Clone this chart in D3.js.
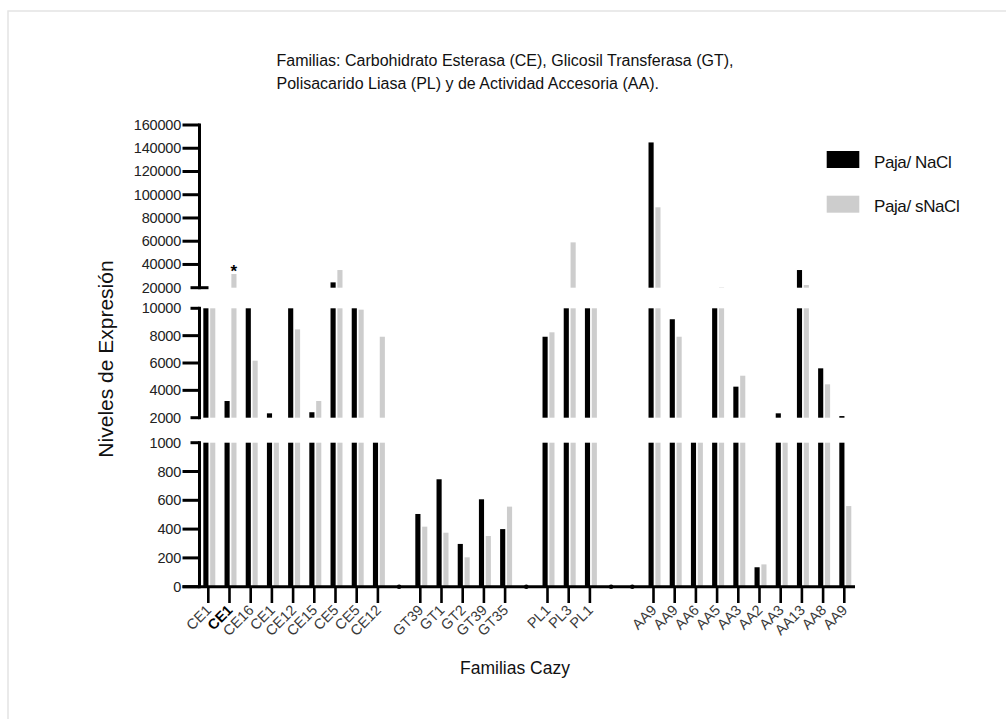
<!DOCTYPE html>
<html><head><meta charset="utf-8">
<script src="https://cdn.jsdelivr.net/npm/d3@7"></script>
<style>
html,body{margin:0;padding:0;background:#fff;}
svg{display:block;font-family:"Liberation Sans",Arial,Helvetica,sans-serif;}
</style></head>
<body>
<svg id="chart" width="1006" height="719"></svg>
<script>
// ---- data ----
const categories = ["CE1","CE1","CE16","CE1","CE12","CE15","CE5","CE5","CE12","",
  "GT39","GT1","GT2","GT39","GT35","",
  "PL1","PL3","PL1","","",
  "AA9","AA9","AA6","AA5","AA3","AA2","AA3","AA13","AA8","AA9"];
const pajaNaCl = [15000,3220,15000,2320,15000,2400,24600,15000,1500,null,
  505,746,297,607,400,null,
  7920,15000,15000,null,null,
  145000,9200,1500,15000,4270,135,2320,35200,5610,2120];
const pajaSNaCl = [15000,31800,6170,1500,8460,3220,35200,9900,7920,null,
  417,375,204,352,556,null,
  8245,59000,15000,null,null,
  89200,7920,1500,20300,5070,155,1500,22300,4440,560];
const seriesNames = ["Paja/ NaCl","Paja/ sNaCl"];
const topTicks = [20000,40000,60000,80000,100000,120000,140000,160000];
const midTicks = [2000,4000,6000,8000,10000];
const botTicks = [0,200,400,600,800,1000];
const boldIndex = 1;      // second CE1 label drawn bold
const starIndex = 1;      // significance mark over second CE1

// ---- layout ----
const svg = d3.select("#chart");
const colors = ["#000000","#cdcdcd"];
const axisX = 199.5;

svg.append("path").attr("d","M8,719V11H1006").attr("fill","none")
  .attr("stroke","#e4e4e4").attr("stroke-width",1.5);

const idx = categories.map((d,i)=>String(i));
const x = d3.scaleBand().domain(idx).range([197.7, 854.9]).padding(0);
const bw = x.bandwidth();
const xs = d3.scaleBand().domain(seriesNames).range([bw*0.265, bw*0.83]).paddingInner(0.25);

const segs = [
  {lo:20000, hi:160000, ticks: topTicks, scale: d3.scaleLinear().domain([20000,160000]).range([287.7,125])},
  {lo:2000, hi:10000, ticks: midTicks, scale: d3.scaleLinear().domain([2000,10000]).range([417.7,308.3])},
  {lo:0, hi:1000, ticks: botTicks, scale: d3.scaleLinear().domain([0,1000]).range([586.7,442.7])}
];

const data = [pajaNaCl, pajaSNaCl];

// bars per segment
segs.forEach((s,si)=>{
  const g = svg.append("g");
  data.forEach((vals,k)=>{
    vals.forEach((v,i)=>{
      if (v==null || v<=s.lo) return;
      const yTop = s.scale(Math.min(v,s.hi));
      const yBot = s.scale(s.lo);
      g.append("rect")
        .attr("x", x(idx[i]) + xs(seriesNames[k]))
        .attr("width", xs.bandwidth())
        .attr("y", yTop)
        .attr("height", yBot - yTop)
        .attr("fill", colors[k]);
    });
  });
});

// y axes (broken)
segs.forEach((s,si)=>{
  const g = svg.append("g").attr("stroke","#000").attr("fill","none");
  const y0 = s.scale(s.lo), y1 = s.scale(s.hi);
  g.append("line").attr("x1",axisX).attr("x2",axisX)
    .attr("y1", y1-1.5).attr("y2", y0+1.5).attr("stroke-width",3);
  s.ticks.forEach(t=>{
    const yy = s.scale(t);
    let xa = axisX-17, xb = axisX;
    const isBreakEnd = (si===0 && t===s.lo) || (si===1 && (t===s.lo||t===s.hi)) || (si===2 && t===s.hi);
    if (isBreakEnd) { xa = axisX-9; }
    if (si===0 && t===s.lo) { xb = axisX+9; }
    g.append("line").attr("x1",xa).attr("x2",xb).attr("y1",yy).attr("y2",yy).attr("stroke-width",3);
    svg.append("text").attr("x",181).attr("y",yy+5).attr("text-anchor","end")
      .attr("font-size",14.5).attr("letter-spacing",-0.2).attr("fill","#222").text(t);
  });
});

// x axis
const yZero = segs[2].scale(0);
svg.append("line").attr("x1",axisX-17).attr("x2",855).attr("y1",yZero).attr("y2",yZero)
  .attr("stroke","#000").attr("stroke-width",3);
const c45 = Math.SQRT1_2;
categories.forEach((c,i)=>{
  const cx = x(idx[i]) + bw/2;
  if (c === "") {
    svg.append("circle").attr("cx",cx).attr("cy",yZero).attr("r",2.3).attr("fill","#000");
    return;
  }
  svg.append("line").attr("x1",cx).attr("x2",cx).attr("y1",yZero).attr("y2",603)
    .attr("stroke","#000").attr("stroke-width",2.6);
  svg.append("text")
    .attr("transform",`matrix(${c45},${-c45},${c45},${c45},${cx+4},611)`)
    .attr("text-anchor","end")
    .attr("font-size",14.5)
    .attr("font-weight", i===boldIndex ? "bold" : "normal")
    .attr("fill", i===boldIndex ? "#000" : "#3a3a3a")
    .text(c);
});

// significance star
{
  const v = pajaSNaCl[starIndex];
  const cx = x(idx[starIndex]) + xs(seriesNames[1]) + xs.bandwidth()/2;
  svg.append("text").attr("x",cx).attr("y",segs[0].scale(v)+3).attr("text-anchor","middle")
    .attr("font-size",17).attr("font-weight","bold").text("*");
}

// title
const title = svg.append("text").attr("font-size",16).attr("fill","#111");
title.append("tspan").attr("x",276.5).attr("y",66).text("Familias: Carbohidrato Esterasa (CE), Glicosil Transferasa (GT),");
title.append("tspan").attr("x",276.5).attr("y",89).text("Polisacarido Liasa (PL) y de Actividad Accesoria (AA).");

// axis titles
svg.append("text").attr("transform","translate(113,359) rotate(-90)")
  .attr("text-anchor","middle").attr("font-size",21).attr("fill","#111").text("Niveles de Expresión");
svg.append("text").attr("x",515).attr("y",674).attr("text-anchor","middle")
  .attr("font-size",17.5).attr("fill","#111").text("Familias Cazy");

// legend
const leg = svg.append("g");
seriesNames.forEach((n,k)=>{
  const yy = 151 + k*44.7;
  leg.append("rect").attr("x",826.7).attr("y",yy).attr("width",32.6).attr("height",17)
    .attr("fill",colors[k]);
  leg.append("text").attr("x",874).attr("y",yy+16.5).attr("font-size",17).attr("letter-spacing",-0.4)
    .attr("fill","#111").text(n);
});
</script>
</body></html>
